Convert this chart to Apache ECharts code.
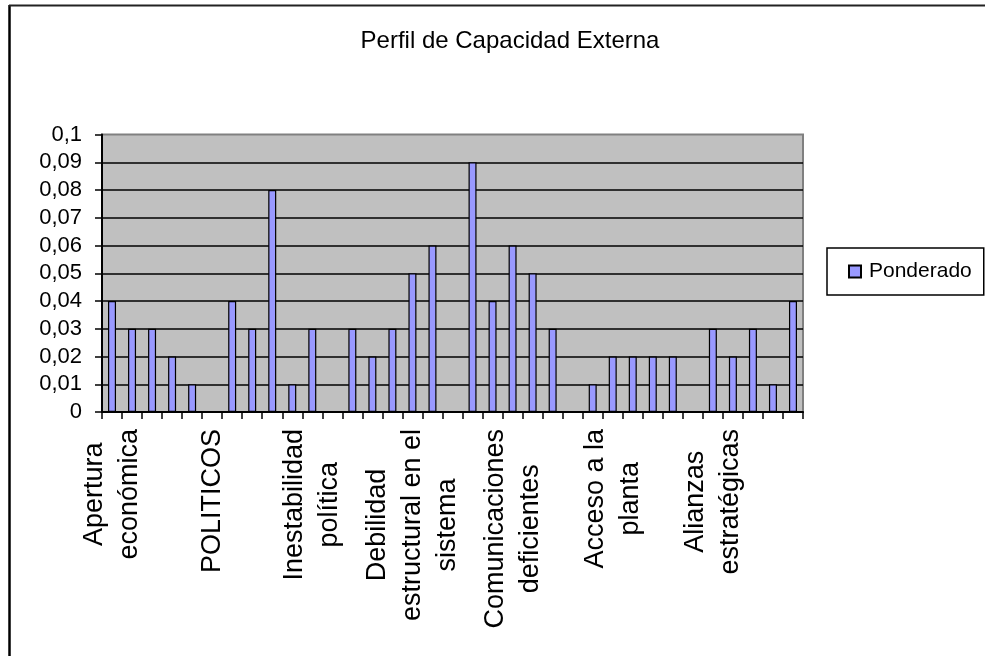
<!DOCTYPE html>
<html>
<head>
<meta charset="utf-8">
<script src="https://cdn.jsdelivr.net/npm/echarts@6/dist/echarts.min.js"></script>
<style>
  html, body { margin: 0; padding: 0; background: #fff; }
  #chart { width: 985px; height: 656px; }
</style>
</head>
<body>
<div id="chart"></div>
<script>
// ---- data ----
const chartTitle = 'Perfil de Capacidad Externa';
const seriesName = 'Ponderado';
const categories = [
  'Apertura\neconómica', '', '', '', '',
  'POLITICOS', '', '', '', '',
  'Inestabilidad\npolítica', '', '', '', '',
  'Debilidad\nestructural en el\nsistema', '', '', '', '',
  'Comunicaciones\ndeficientes', '', '', '', '',
  'Acceso a la\nplanta', '', '', '', '',
  'Alianzas\nestratégicas', '', '', '', ''
];
const values = [
  0.04, 0.03, 0.03, 0.02, 0.01, null,
  0.04, 0.03, 0.08, 0.01, 0.03, null,
  0.03, 0.02, 0.03, 0.05, 0.06, null,
  0.09, 0.04, 0.06, 0.05, 0.03, null,
  0.01, 0.02, 0.02, 0.02, 0.02, null,
  0.03, 0.02, 0.03, 0.01, 0.04
];
const yTickLabels = ['0', '0,01', '0,02', '0,03', '0,04', '0,05', '0,06', '0,07', '0,08', '0,09', '0,1'];

const FONT = '"Liberation Sans", Arial, sans-serif';
const chart = echarts.init(document.getElementById('chart'), null, { renderer: 'canvas' });

chart.setOption({
  backgroundColor: '#ffffff',
  animation: false,
  title: {
    text: chartTitle,
    left: 510,
    top: 29,
    textAlign: 'center',
    padding: 0,
    textStyle: { fontFamily: FONT, fontSize: 24, fontWeight: 'normal', color: '#000' }
  },
  legend: {
    left: 827,
    top: 248,
    orient: 'vertical',
    padding: [13, 12, 13, 21],
    borderColor: '#000',
    borderWidth: 1.5,
    itemWidth: 12,
    itemHeight: 12,
    icon: 'rect',
    textStyle: { fontFamily: FONT, fontSize: 21, color: '#000', padding: [0, 0, 0, 3] },
    data: [seriesName]
  },
  graphic: [
    { type: 'line', shape: { x1: 9.5, y1: 5, x2: 9.5, y2: 656 }, style: { stroke: '#000', lineWidth: 2.5 } },
    { type: 'line', shape: { x1: 9, y1: 5.5, x2: 985, y2: 5.5 }, style: { stroke: '#222', lineWidth: 2 } }
  ],
  grid: {
    left: 102, right: 182, top: 134.5, bottom: 244,
    show: true,
    backgroundColor: '#C0C0C0',
    borderColor: '#808080',
    borderWidth: 2
  },
  xAxis: {
    type: 'category',
    data: categories,
    boundaryGap: true,
    axisLine: { show: true, lineStyle: { color: '#000', width: 2 } },
    axisTick: { show: true, interval: 0, length: 7, lineStyle: { color: '#000', width: 1.5 } },
    axisLabel: {
      interval: 4,
      rotate: 90,
      margin: 17,
      formatter: function (v) {
        if (!v) return '';
        return v.split('\n').map(function (l) { return '{c|' + l + '}'; }).join('\n');
      },
      rich: {
        c: { align: 'center', fontFamily: FONT, fontSize: 27, lineHeight: 35, color: '#000' }
      }
    },
    splitLine: { show: false }
  },
  yAxis: {
    type: 'value',
    min: 0,
    max: 0.1,
    interval: 0.01,
    axisLine: { show: true, lineStyle: { color: '#000', width: 2 } },
    axisTick: { show: true, length: 7, lineStyle: { color: '#000', width: 1.5 } },
    axisLabel: {
      margin: 20,
      fontFamily: FONT,
      fontSize: 22,
      color: '#000',
      formatter: function (v) { return yTickLabels[Math.round(v * 100)]; }
    },
    splitLine: { show: true, showMaxLine: false, lineStyle: { color: '#000', width: 1.6 } }
  },
  series: [{
    name: seriesName,
    type: 'bar',
    data: values,
    barWidth: 8,
    itemStyle: { color: '#9999FF', borderColor: '#000', borderWidth: 1.2 }
  }]
});
</script>
</body>
</html>
